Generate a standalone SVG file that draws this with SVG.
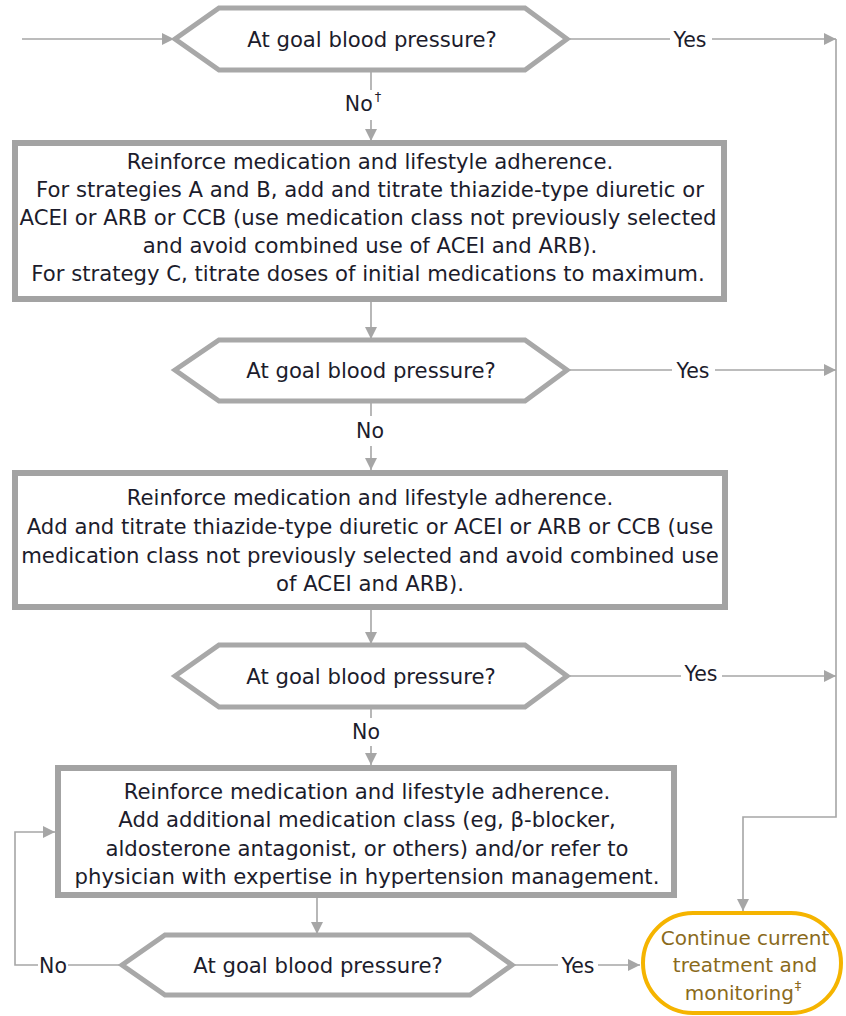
<svg xmlns="http://www.w3.org/2000/svg" width="846" height="1016" viewBox="0 0 846 1016">
<style>
text{font-family:"DejaVu Sans",Verdana,sans-serif;font-size:21.2px;fill:#1c1c2c;text-anchor:middle}
.lbl{font-size:20.5px}
.box{fill:#fff;stroke:#a3a3a3;stroke-width:6}
.hex{fill:#fff;stroke:#a8a8a8;stroke-width:5;stroke-linejoin:miter}
.ln{fill:none;stroke:#a6a6a6;stroke-width:1.6}
.oval{fill:#fff;stroke:#f5b400;stroke-width:4}
.ot{fill:#8a6a1c;font-size:20px}
.sup{font-size:13px}
</style>
<defs>
<marker id="ah" viewBox="0 0 12 12" refX="12" refY="6" markerWidth="12" markerHeight="12" markerUnits="userSpaceOnUse" orient="auto">
<path d="M0,0 L12,6 L0,12 z" fill="#a6a6a6"/>
</marker>
</defs>
<g id="connectors">
<path class="ln" d="M22,39 H174" marker-end="url(#ah)"/>
<path class="ln" d="M567,39 H670 M712,39 H836" marker-end="url(#ah)"/>
<path class="ln" d="M371,70 V90"/>
<path class="ln" d="M371,120 V141" marker-end="url(#ah)"/>
<path class="ln" d="M371,302 V339" marker-end="url(#ah)"/>
<path class="ln" d="M567,370 H672 M715,370 H836" marker-end="url(#ah)"/>
<path class="ln" d="M371,401 V416"/>
<path class="ln" d="M371,446 V470" marker-end="url(#ah)"/>
<path class="ln" d="M371,610 V644" marker-end="url(#ah)"/>
<path class="ln" d="M567,676 H681 M722,676 H782"/>
<path class="ln" d="M782,676 H836" marker-end="url(#ah)"/>
<path class="ln" d="M371,707 V718"/>
<path class="ln" d="M371,746 V765" marker-end="url(#ah)"/>
<path class="ln" d="M317,898 V934" marker-end="url(#ah)"/>
<path class="ln" d="M122,965 H68 M38,965 H15 V832 H55" marker-end="url(#ah)"/>
<path class="ln" d="M512,965 H558 M598,965 H640" marker-end="url(#ah)"/>
<path class="ln" d="M836,39 V817 H743 V911" marker-end="url(#ah)"/>
<text class="lbl" x="690" y="47">Yes</text>
<text class="lbl" x="363" y="111">No<tspan class="sup" dx="2" dy="-10">†</tspan></text>
<text class="lbl" x="693" y="378">Yes</text>
<text class="lbl" x="370" y="438">No</text>
<text class="lbl" x="701" y="681">Yes</text>
<text class="lbl" x="366" y="739">No</text>
<text class="lbl" x="53" y="973">No</text>
<text class="lbl" x="578" y="973">Yes</text>
</g>
<g id="decision1">
<polygon class="hex" points="175,39 219,8 525,8 567,39 525,70 219,70"/>
<text x="372" y="47">At goal blood pressure?</text>
</g>
<g id="step1">
<rect class="box" x="15" y="143" width="709" height="156"/>
<text x="370" y="169">Reinforce medication and lifestyle adherence.</text>
<text x="370" y="197">For strategies A and B, add and titrate thiazide-type diuretic or</text>
<text x="368" y="225">ACEI or ARB or CCB (use medication class not previously selected</text>
<text x="370" y="253">and avoid combined use of ACEI and ARB).</text>
<text x="368" y="281">For strategy C, titrate doses of initial medications to maximum.</text>
</g>
<g id="decision2">
<polygon class="hex" points="175,370 219,340 525,340 567,370 525,401 219,401"/>
<text x="371" y="378">At goal blood pressure?</text>
</g>
<g id="step2">
<rect class="box" x="15" y="473" width="710" height="134"/>
<text x="370" y="505">Reinforce medication and lifestyle adherence.</text>
<text x="370" y="534">Add and titrate thiazide-type diuretic or ACEI or ARB or CCB (use</text>
<text x="370" y="563">medication class not previously selected and avoid combined use</text>
<text x="370" y="591">of ACEI and ARB).</text>
</g>
<g id="decision3">
<polygon class="hex" points="175,676 219,645 525,645 567,676 525,707 219,707"/>
<text x="371" y="684">At goal blood pressure?</text>
</g>
<g id="step3">
<rect class="box" x="58" y="768" width="616" height="127"/>
<text x="367" y="799">Reinforce medication and lifestyle adherence.</text>
<text x="367" y="827">Add additional medication class (eg, β-blocker,</text>
<text x="367" y="856">aldosterone antagonist, or others) and/or refer to</text>
<text x="367" y="884">physician with expertise in hypertension management.</text>
</g>
<g id="decision4">
<polygon class="hex" points="122,965 165,935 470,935 512,965 470,995 165,995"/>
<text x="318" y="973">At goal blood pressure?</text>
</g>
<g id="outcome">
<rect class="oval" x="643" y="913" width="198" height="100" rx="50" ry="50"/>
<text class="ot" x="745" y="945">Continue current</text>
<text class="ot" x="745" y="972">treatment and</text>
<text class="ot" x="743" y="1000">monitoring<tspan class="sup" dx="1" dy="-10">‡</tspan></text>
</g>
</svg>
